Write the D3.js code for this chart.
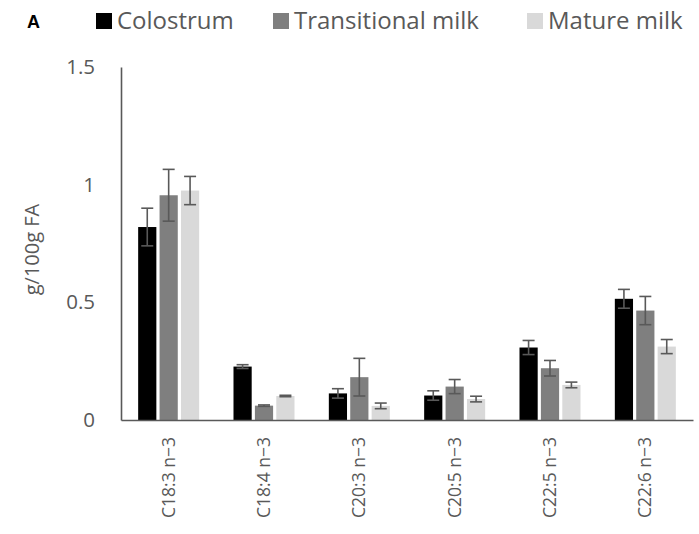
<!DOCTYPE html>
<html>
<head>
<meta charset="utf-8">
<script src="https://cdn.jsdelivr.net/npm/d3@7"></script>
<style>
  html, body { margin: 0; padding: 0; background: #fff; }
  svg { display: block; font-family: "Open Sans", Lato, sans-serif; }
</style>
</head>
<body>
<svg id="chart" width="699" height="534"></svg>
<script>
const categories = ["C18:3 n\u22123", "C18:4 n\u22123", "C20:3 n\u22123", "C20:5 n\u22123", "C22:5 n\u22123", "C22:6 n\u22123"];
const seriesNames = ["Colostrum", "Transitional milk", "Mature milk"];
const seriesColors = ["#000000", "#7f7f7f", "#d9d9d9"];
const colostrum     = [0.82, 0.227, 0.113, 0.104, 0.308, 0.515];
const colostrumErr  = [0.08, 0.008, 0.02, 0.02, 0.03, 0.04];
const transitional  = [0.955, 0.061, 0.182, 0.142, 0.22, 0.465];
const transitionalErr = [0.11, 0.003, 0.08, 0.03, 0.033, 0.06];
const mature        = [0.975, 0.102, 0.06, 0.089, 0.149, 0.312];
const matureErr     = [0.06, 0.003, 0.012, 0.012, 0.012, 0.03];
const yTicks = [0, 0.5, 1, 1.5];

const values = [colostrum, transitional, mature];
const errors = [colostrumErr, transitionalErr, matureErr];

const svg = d3.select("#chart");
const mLeft = 121, mRight = 693, mTop = 67, mBottom = 420;
const axisColor = "#595959";
const textColor = "#595959";
const font = "'Open Sans', Lato, sans-serif";

const x0 = d3.scaleBand().domain(categories).range([mLeft, mRight]).paddingInner(0.36).paddingOuter(0.18);
const x1 = d3.scaleBand().domain(d3.range(3)).range([0, x0.bandwidth()]).paddingInner(0.15).paddingOuter(0);
const y = d3.scaleLinear().domain([0, 1.5]).range([mBottom, mTop]);

// bars
categories.forEach((c, ci) => {
  const g = svg.append("g").attr("transform", `translate(${x0(c)},0)`);
  d3.range(3).forEach(si => {
    const v = values[si][ci];
    g.append("rect")
      .attr("x", x1(si))
      .attr("y", y(v))
      .attr("width", x1.bandwidth())
      .attr("height", y(0) - y(v))
      .attr("fill", seriesColors[si]);
  });
});

// error bars
categories.forEach((c, ci) => {
  d3.range(3).forEach(si => {
    const v = values[si][ci], e = errors[si][ci];
    const cx = x0(c) + x1(si) + x1.bandwidth() / 2;
    const eg = svg.append("g").attr("stroke", axisColor).attr("stroke-width", 1.6).attr("fill", "none");
    eg.append("line").attr("x1", cx).attr("x2", cx).attr("y1", y(v + e)).attr("y2", y(v - e));
    eg.append("line").attr("x1", cx - 6).attr("x2", cx + 6).attr("y1", y(v + e)).attr("y2", y(v + e));
    eg.append("line").attr("x1", cx - 6).attr("x2", cx + 6).attr("y1", y(v - e)).attr("y2", y(v - e));
  });
});

// y axis
const yAxis = d3.axisLeft(y).tickValues(yTicks).tickSize(0).tickPadding(26)
  .tickFormat(d => String(d));
const yg = svg.append("g").attr("transform", `translate(${mLeft},0)`).call(yAxis);
yg.select(".domain").attr("stroke", axisColor).attr("stroke-width", 1.6);
yg.selectAll("text").attr("fill", textColor).attr("font-size", 20.5).attr("font-family", font);

// x axis
const xAxis = d3.axisBottom(x0).tickSize(0).tickPadding(0);
const xg = svg.append("g").attr("transform", `translate(0,${mBottom})`).call(xAxis);
xg.select(".domain").attr("stroke", axisColor).attr("stroke-width", 1.6);
xg.selectAll("text")
  .attr("fill", textColor)
  .attr("font-size", 17.5)
  .attr("font-family", font)
  .attr("text-anchor", "end")
  .attr("dy", "0.35em")
  .attr("transform", "translate(0,17) rotate(-90)");

// y label
svg.append("text")
  .attr("transform", `translate(32,${(mTop + mBottom) / 2 + 6}) rotate(-90)`)
  .attr("text-anchor", "middle")
  .attr("dy", "0.35em")
  .attr("fill", textColor)
  .attr("font-size", 20)
  .attr("font-family", font)
  .text("g/100g FA");

// panel letter
svg.append("text").attr("x", 27).attr("y", 28).attr("font-weight", "bold")
  .attr("font-size", 18).attr("fill", "#000").attr("font-family", "Arial, 'Liberation Sans', sans-serif").text("A");

// legend
const legendX = [96, 273, 527];
seriesNames.forEach((n, i) => {
  const lg = svg.append("g").attr("transform", `translate(${legendX[i]},0)`);
  lg.append("rect").attr("x", 0).attr("y", 13).attr("width", 16).attr("height", 16).attr("fill", seriesColors[i]);
  lg.append("text").attr("x", 21).attr("y", 29).attr("font-size", 24).attr("font-family", font)
    .attr("fill", textColor).text(n);
});
</script>
</body>
</html>
